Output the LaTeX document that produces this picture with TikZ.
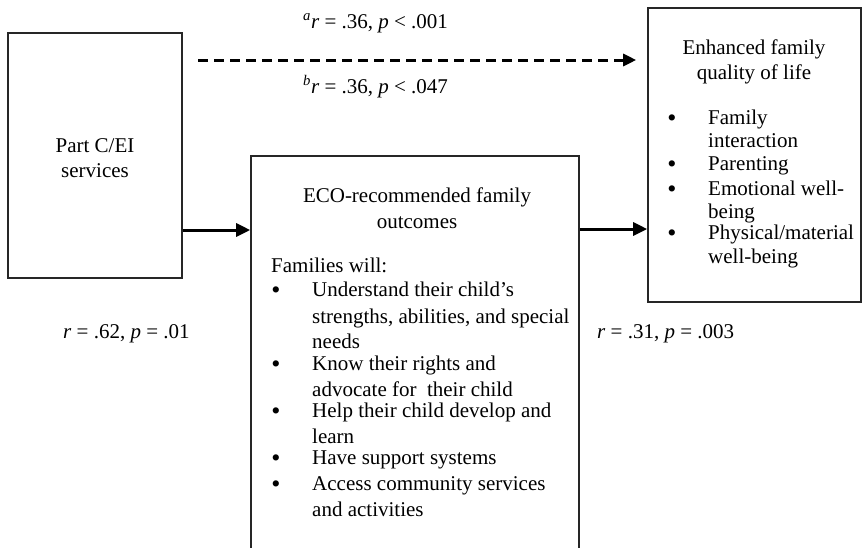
\documentclass[tikz,border=0pt]{standalone}
\usepackage{fontspec}
\setmainfont{Liberation Serif}
\usetikzlibrary{arrows.meta}
\tikzset{
  box/.style={draw=black!85, line width=1.6pt, inner sep=0pt, fill=none},
  txt/.style={inner sep=0pt, anchor=base, font=\fontsize{21}{25}\selectfont},
  txtl/.style={txt, anchor=base west},
  bul/.style={inner sep=0pt, anchor=base, font=\fontsize{26}{26}\selectfont},
  arr/.style={line width=3pt, -{Triangle[length=14pt,width=13pt]}},
  darr/.style={line width=3pt, dash pattern=on 10pt off 6pt, -{Triangle[length=13pt,width=12pt]}},
}
\begin{document}
\begin{tikzpicture}[x=1pt,y=-1pt]
\useasboundingbox (0,0) rectangle (864,547);
\clip (0,0) rectangle (864,547);
% boxes
\node[box, minimum width=174pt, minimum height=245pt] (left) at (95,155.5) {};
\node[box, minimum width=328pt, minimum height=444pt] (mid) at (415,378) {};
\node[box, minimum width=213pt, minimum height=294pt] (right) at (754.5,155) {};
% left box text
\node[txt] (l1) at (95,152) {Part C/EI};
\node[txt] (l2) at (95,177) {services};
% middle box text
\node[txt] (m1) at (417,202) {ECO-recommended family};
\node[txt] (m2) at (417,228) {outcomes};
\node[txtl] (m3) at (271,272) {Families will:};
\node[bul] (mb1) at (276,298) {\textbullet};
\node[txtl] (m4) at (312,296) {Understand their child’s};
\node[txtl] (m5) at (312,323) {strengths, abilities, and special};
\node[txtl] (m6) at (312,348) {needs};
\node[bul] (mb2) at (276,372) {\textbullet};
\node[txtl] (m7) at (312,370) {Know their rights and};
\node[txtl] (m8) at (312,396) {advocate for\ \ their child};
\node[bul] (mb3) at (276,419) {\textbullet};
\node[txtl] (m9) at (312,417) {Help their child develop and};
\node[txtl] (m10) at (312,443) {learn};
\node[bul] (mb4) at (276,466) {\textbullet};
\node[txtl] (m11) at (312,464) {Have support systems};
\node[bul] (mb5) at (276,492) {\textbullet};
\node[txtl] (m12) at (312,490) {Access community services};
\node[txtl] (m13) at (312,516) {and activities};
% right box text
\node[txt] (r1) at (754,54) {Enhanced family};
\node[txt] (r2) at (754,79) {quality of life};
\node[bul] (rb1) at (672,126) {\textbullet};
\node[txtl] (r3) at (708,124) {Family};
\node[txtl] (r4) at (708,147) {interaction};
\node[bul] (rb2) at (672,172) {\textbullet};
\node[txtl] (r5) at (708,170) {Parenting};
\node[bul] (rb3) at (672,197) {\textbullet};
\node[txtl] (r6) at (708,195) {Emotional well-};
\node[txtl] (r7) at (708,218) {being};
\node[bul] (rb4) at (672,241) {\textbullet};
\node[txtl] (r8) at (708,239) {Physical/material};
\node[txtl] (r9) at (708,263) {well-being};
% labels
\node[txtl] (la) at (303,28) {\textsuperscript{\textit{a}}\textit{r} = .36, \textit{p} < .001};
\node[txtl] (lb) at (303,93) {\textsuperscript{\textit{b}}\textit{r} = .36, \textit{p} < .047};
\node[txtl] (lc) at (63,338) {\textit{r} = .62, \textit{p} = .01};
\node[txtl] (ld) at (597,338) {\textit{r} = .31, \textit{p} = .003};
% connectors
\coordinate (y1) at (0,230);
\coordinate (y2) at (0,229);
\coordinate (ds) at (198,60);
\draw[arr] (left.east |- y1) -- (mid.west |- y1);
\draw[arr] (mid.east |- y2) -- (right.west |- y2);
\draw[darr, shorten >=11pt] (ds) -- (right.west |- ds);
\end{tikzpicture}
\end{document}
